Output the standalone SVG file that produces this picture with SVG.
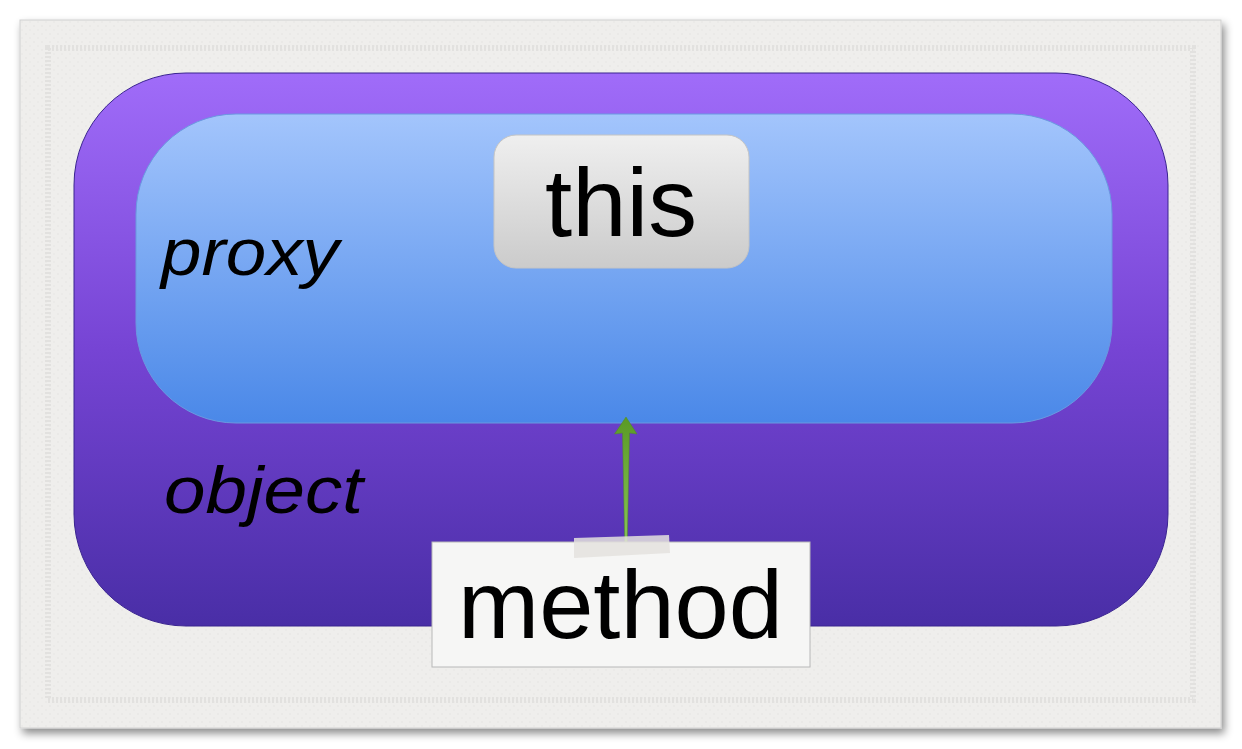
<svg xmlns="http://www.w3.org/2000/svg" width="1242" height="749" viewBox="0 0 1242 749">
<defs>
<linearGradient id="gPurple" x1="0" y1="0" x2="0" y2="1">
<stop offset="0" stop-color="#a06cf9"/>
<stop offset="0.5" stop-color="#7644d4"/>
<stop offset="1" stop-color="#492ea6"/>
</linearGradient>
<linearGradient id="gBlue" x1="0" y1="0" x2="0" y2="1">
<stop offset="0" stop-color="#a3c5fc"/>
<stop offset="1" stop-color="#4a88e8"/>
</linearGradient>
<linearGradient id="gGray" x1="0" y1="0" x2="0" y2="1">
<stop offset="0" stop-color="#efefef"/>
<stop offset="1" stop-color="#cbcbcb"/>
</linearGradient>
<linearGradient id="gArrow" x1="0" y1="0" x2="0" y2="1">
<stop offset="0" stop-color="#5a9a25"/>
<stop offset="1" stop-color="#8cc85a"/>
</linearGradient>
<filter id="shadow" x="-5%" y="-5%" width="110%" height="115%">
<feDropShadow dx="3" dy="5" stdDeviation="4" flood-color="#000" flood-opacity="0.45"/>
</filter>
<pattern id="paper" width="8" height="8" patternUnits="userSpaceOnUse">
<rect width="8" height="8" fill="#efeeec"/>
<circle cx="2" cy="2" r="0.8" fill="#e4e3e1"/>
<circle cx="6" cy="6" r="0.8" fill="#e6e5e3"/>
</pattern>
</defs>
<style>
.lbl{font-family:"Liberation Sans",Arial,sans-serif;fill:#000;}
.it{font-style:italic;font-size:66px;}
.big{font-size:97px;}
</style>
<rect x="0" y="0" width="1242" height="749" fill="#ffffff"/>
<g id="paper-bg">
<rect x="20" y="20" width="1201" height="708" fill="url(#paper)" stroke="#d0d0d0" stroke-width="1" filter="url(#shadow)"/>
<rect x="48" y="48" width="1145" height="652" fill="none" stroke="#e2e1df" stroke-width="6" stroke-dasharray="2 2"/>
</g>
<g id="object">
<rect x="74" y="73" width="1094" height="553" rx="112" ry="112" fill="url(#gPurple)" stroke="#3a2490" stroke-width="1"/>
<text class="lbl it" x="164" y="513" textLength="199" lengthAdjust="spacingAndGlyphs">object</text>
</g>
<g id="proxy">
<rect x="136" y="114" width="976" height="309" rx="100" ry="100" fill="url(#gBlue)" stroke="#6a98e0" stroke-width="1"/>
<text class="lbl it" x="161" y="275" textLength="178" lengthAdjust="spacingAndGlyphs">proxy</text>
</g>
<g id="this">
<rect x="494" y="135" width="255" height="133" rx="22" ry="22" fill="url(#gGray)" stroke="#c4c4c4" stroke-width="1"/>
<text class="lbl big" x="545" y="236" textLength="152" lengthAdjust="spacingAndGlyphs">this</text>
</g>
<g id="connectors">
<path d="M625,555 L622.5,433 L614.5,434 L626,417 L637,434 L629.5,433 L627,555 Z" fill="url(#gArrow)" stroke="#4f8a22" stroke-width="0.5"/>
</g>
<g id="method">
<rect x="432" y="542" width="378" height="125" fill="#f6f6f5" stroke="#b8b8b8" stroke-width="1"/>
<polygon points="574,538 669,535 670,553 574,558" fill="#e4e2de" opacity="0.85"/>
<text class="lbl big" x="458" y="638" textLength="325" lengthAdjust="spacingAndGlyphs">method</text>
</g>
</svg>
